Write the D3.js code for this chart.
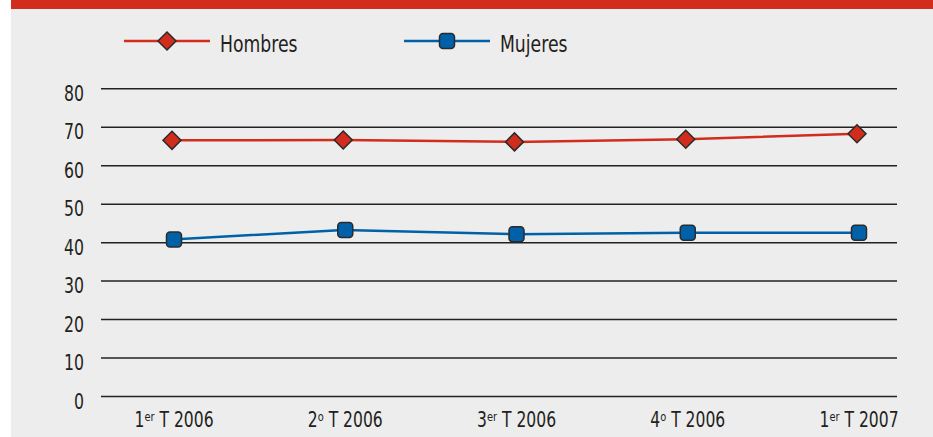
<!DOCTYPE html>
<html>
<head>
<meta charset="utf-8">
<script src="https://cdn.jsdelivr.net/npm/d3@7"></script>
<style>
  body { margin: 0; background: #fff; }
  svg { display: block; }
  text { font-family: "DejaVu Sans", sans-serif; fill: #231f20; }
</style>
</head>
<body>
<svg id="root" width="933" height="437"></svg>
<script>
// categories: [number, superscript, rest]
const categories = [
  ['1', 'er', ' T 2006'],
  ['2', 'o', ' T 2006'],
  ['3', 'er', ' T 2006'],
  ['4', 'o', ' T 2006'],
  ['1', 'er', ' T 2007'],
];
const hombres = [66.6, 66.7, 66.2, 66.9, 68.3];
const mujeres = [40.8, 43.3, 42.2, 42.6, 42.6];
const yTicks = [0, 10, 20, 30, 40, 50, 60, 70, 80];

const red = '#d12c1c';
const blue = '#0061a9';

const svg = d3.select('#root');

// panel background + red top bar
svg.append('rect').attr('x', 11).attr('y', 0).attr('width', 922).attr('height', 437).attr('fill', '#ededed');
svg.append('rect').attr('x', 11).attr('y', 0).attr('width', 922).attr('height', 9).attr('fill', red);

const x = d3.scalePoint().domain(d3.range(categories.length)).range([172, 857]);
const y = d3.scaleLinear().domain([0, 80]).range([396.5, 88.8]);

// gridlines
svg.append('g')
  .selectAll('line')
  .data(yTicks)
  .join('line')
  .attr('x1', 101)
  .attr('x2', 897)
  .attr('y1', d => y(d))
  .attr('y2', d => y(d))
  .attr('stroke', '#222')
  .attr('stroke-width', 1.5);

// y labels (condensed by horizontal scaling)
svg.append('g')
  .selectAll('g')
  .data(yTicks)
  .join('g')
  .attr('transform', d => `translate(84,${y(d) + 12}) scale(0.73,1)`)
  .append('text')
  .attr('text-anchor', 'end')
  .attr('font-size', 21.5)
  .text(d => d);

// x labels
const xl = svg.append('g')
  .selectAll('g')
  .data(categories)
  .join('g')
  .attr('transform', (_, i) => `translate(${x(i) + 2},426.5) scale(0.76,1)`)
  .append('text')
  .attr('text-anchor', 'middle')
  .attr('font-size', 20.5);
xl.append('tspan').text(d => d[0]);
xl.append('tspan').attr('font-size', 13).attr('dy', -6).text(d => d[1]);
xl.append('tspan').attr('dy', 6).text(d => d[2]);

const line = d3.line().x((_, i) => x(i)).y(d => y(d));

const diamond = (sel, s) => sel.append('path')
  .attr('d', `M0,${-s}L${s},0L0,${s}L${-s},0Z`)
  .attr('fill', red)
  .attr('stroke', '#2b2b2b')
  .attr('stroke-width', 1.5);

const square = (sel, s) => sel.append('rect')
  .attr('x', -s).attr('y', -s)
  .attr('width', 2 * s).attr('height', 2 * s)
  .attr('rx', 3.5)
  .attr('fill', blue)
  .attr('stroke', '#2b2b2b')
  .attr('stroke-width', 1.5);

// Hombres
svg.append('path').datum(hombres).attr('d', line)
  .attr('fill', 'none').attr('stroke', red).attr('stroke-width', 2.5);
svg.append('g').selectAll('g').data(hombres).join('g')
  .attr('transform', (d, i) => `translate(${x(i)},${y(d)})`)
  .call(g => diamond(g, 9));

// Mujeres
svg.append('path').datum(mujeres).attr('d', line)
  .attr('fill', 'none').attr('stroke', blue).attr('stroke-width', 2.5);
svg.append('g').selectAll('g').data(mujeres).join('g')
  .attr('transform', (d, i) => `translate(${x(i) + 2},${y(d)})`)
  .call(g => square(g, 7.5));

// legend
const legend = [
  { name: 'Hombres', color: red, x0: 124, mark: diamond, s: 9 },
  { name: 'Mujeres', color: blue, x0: 404, mark: square, s: 7.5 },
];
legend.forEach(l => {
  const g = svg.append('g').attr('transform', `translate(${l.x0},41)`);
  g.append('line').attr('x1', 0).attr('x2', 86).attr('stroke', l.color).attr('stroke-width', 2.5);
  const m = g.append('g').attr('transform', 'translate(43,0)');
  l.mark(m, l.s);
  g.append('g').attr('transform', 'translate(96,10.5) scale(0.75,1)')
    .append('text').attr('font-size', 23).text(l.name);
});
</script>
</body>
</html>
